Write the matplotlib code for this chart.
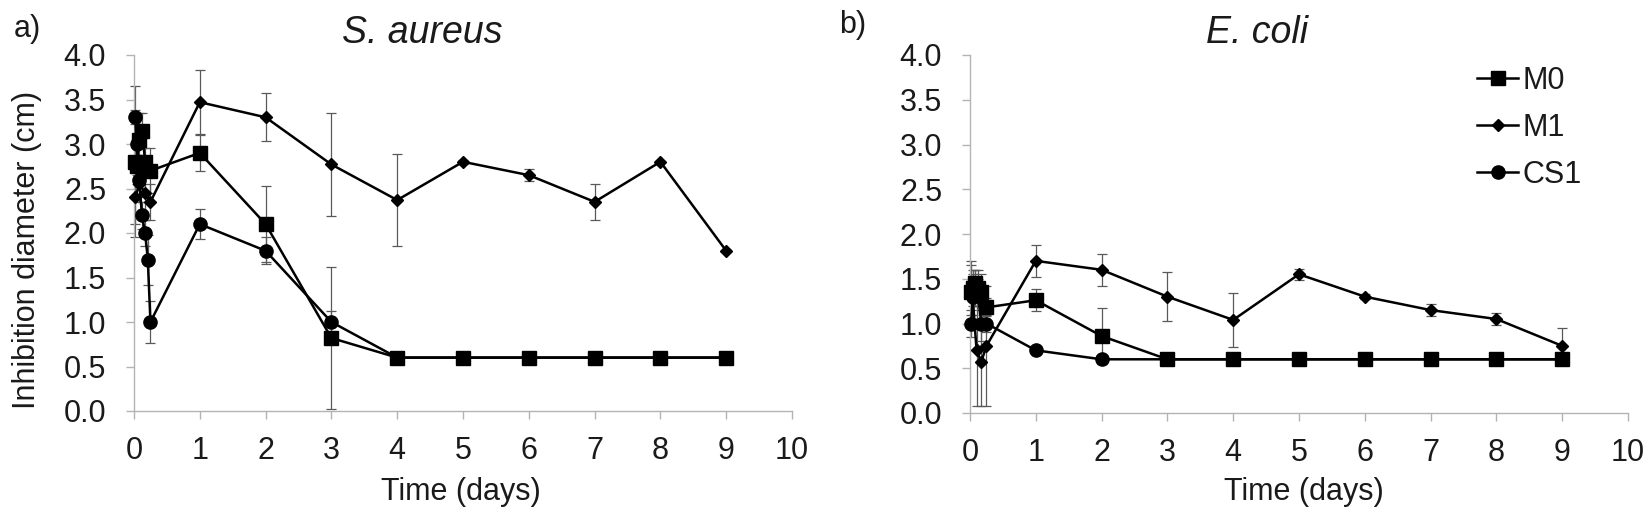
import matplotlib
matplotlib.use("Agg")
from matplotlib import pyplot as plt

plt.rcParams['font.family'] = ['Liberation Sans', 'DejaVu Sans']

# S. aureus
sa_m0_days = [0.02, 0.04, 0.08, 0.12, 0.17, 0.25, 1, 2, 3, 4, 5, 6, 7, 8, 9]
sa_m0 = [2.8, 2.75, 3.05, 3.15, 2.8, 2.7, 2.9, 2.1, 0.82, 0.6, 0.6, 0.6, 0.6, 0.6, 0.6]
sa_m0_err = [0.85, 0.2, 0.3, 0.2, 0.15, 0.25, 0.2, 0.43, 0.8, 0, 0, 0, 0, 0, 0]

sa_m1_days = [0.02, 0.08, 0.17, 0.25, 1, 2, 3, 4, 5, 6, 7, 8, 9]
sa_m1 = [2.4, 2.55, 2.45, 2.35, 3.47, 3.3, 2.77, 2.37, 2.8, 2.65, 2.35, 2.8, 1.8]
sa_m1_err = [0.3, 0.2, 0.3, 0.2, 0.36, 0.27, 0.58, 0.52, 0.02, 0.07, 0.2, 0.01, 0.01]

sa_cs1_days = [0.02, 0.04, 0.08, 0.12, 0.17, 0.21, 0.25, 1, 2, 3, 4, 5, 6, 7, 8, 9]
sa_cs1 = [3.3, 3.0, 2.6, 2.2, 2.0, 1.7, 1.0, 2.1, 1.8, 1.0, 0.6, 0.6, 0.6, 0.6, 0.6, 0.6]
sa_cs1_err = [0.08, 0.35, 0.2, 0.15, 0.15, 0.28, 0.24, 0.17, 0.15, 0.12, 0, 0, 0, 0, 0, 0]

# E. coli
ec_m0_days = [0.02, 0.04, 0.08, 0.12, 0.17, 0.25, 1, 2, 3, 4, 5, 6, 7, 8, 9]
ec_m0 = [1.35, 1.4, 1.45, 1.4, 1.35, 1.18, 1.26, 0.86, 0.6, 0.6, 0.6, 0.6, 0.6, 0.6, 0.6]
ec_m0_err = [0.3, 0.2, 0.15, 0.2, 0.2, 0.1, 0.12, 0.31, 0, 0, 0, 0, 0, 0, 0]

ec_m1_days = [0.02, 0.04, 0.1, 0.17, 0.25, 1, 2, 3, 4, 5, 6, 7, 8, 9]
ec_m1 = [1.4, 1.3, 0.7, 0.57, 0.75, 1.7, 1.6, 1.3, 1.04, 1.55, 1.3, 1.15, 1.05, 0.75]
ec_m1_err = [0.3, 0.25, 0.62, 0.49, 0.67, 0.18, 0.18, 0.27, 0.3, 0.06, 0.03, 0.07, 0.07, 0.2]

ec_cs1_days = [0.02, 0.04, 0.08, 0.12, 0.17, 0.25, 1, 2, 3, 4, 5, 6, 7, 8, 9]
ec_cs1 = [1.0, 1.3, 1.4, 1.35, 1.0, 1.0, 0.7, 0.6, 0.6, 0.6, 0.6, 0.6, 0.6, 0.6, 0.6]
ec_cs1_err = [0.15, 0.2, 0.2, 0.15, 0.2, 0.1, 0.03, 0.02, 0, 0, 0, 0, 0, 0, 0]

series_names = ["M0", "M1", "CS1"]
x_ticks = [0, 1, 2, 3, 4, 5, 6, 7, 8, 9, 10]
y_ticks = [0.0, 0.5, 1.0, 1.5, 2.0, 2.5, 3.0, 3.5, 4.0]

AXIS_GRAY = "#b3b3b3"
TEXT = "#1a1a1a"
W, H = 1652, 520


def draw_series(ax, days, values, errors, marker, size):
    ax.errorbar(days, values, yerr=errors, fmt="none", ecolor="#595959",
                elinewidth=0.9, capsize=3.5, capthick=0.9, zorder=2, clip_on=False)
    line, = ax.plot(days, values, color="black", linewidth=1.8, marker=marker,
                    markersize=size, zorder=3, clip_on=False)
    return line


def style_axes(ax):
    ax.set_xlim(0, 10)
    ax.set_ylim(0, 4)
    ax.set_xticks(x_ticks)
    ax.set_yticks(y_ticks)
    ax.set_yticklabels([f"{v:.1f}" for v in y_ticks])
    for side in ["top", "right"]:
        ax.spines[side].set_visible(False)
    for side in ["left", "bottom"]:
        ax.spines[side].set_color(AXIS_GRAY)
        ax.spines[side].set_linewidth(1.0)
    ax.tick_params(direction="out", length=6, width=1.0, color=AXIS_GRAY,
                   labelsize=22, labelcolor=TEXT)
    ax.tick_params(axis="x", pad=12)
    ax.tick_params(axis="y", pad=14)


fig = plt.figure(figsize=(W / 100, H / 100), dpi=100)
ax1 = fig.add_axes([134 / W, 1 - 411 / H, (792 - 134) / W, 356 / H])
ax2 = fig.add_axes([970 / W, 1 - 413 / H, (1628 - 970) / W, 358 / H])

draw_series(ax1, sa_cs1_days, sa_cs1, sa_cs1_err, "o", 9.5)
draw_series(ax1, sa_m1_days, sa_m1, sa_m1_err, "D", 6.5)
draw_series(ax1, sa_m0_days, sa_m0, sa_m0_err, "s", 10.5)

h_cs1 = draw_series(ax2, ec_cs1_days, ec_cs1, ec_cs1_err, "o", 9.5)
h_m1 = draw_series(ax2, ec_m1_days, ec_m1, ec_m1_err, "D", 6.5)
h_m0 = draw_series(ax2, ec_m0_days, ec_m0, ec_m0_err, "s", 10.5)

style_axes(ax1)
style_axes(ax2)

fig.text(27 / W, 1 - 250 / H, "Inhibition diameter (cm)", fontsize=22, color=TEXT,
         rotation=90, ha="center", va="center")
fig.text(461 / W, 1 - 492 / H, "Time (days)", fontsize=22, color=TEXT,
         ha="center", va="center")
fig.text(1304 / W, 1 - 492 / H, "Time (days)", fontsize=22, color=TEXT,
         ha="center", va="center")

fig.text(422 / W, 1 - 33 / H, "S. aureus", fontsize=27, style="italic",
         color=TEXT, ha="center", va="center")
fig.text(1257 / W, 1 - 33 / H, "E. coli", fontsize=27, style="italic",
         color=TEXT, ha="center", va="center")
fig.text(14 / W, 1 - 29 / H, "a)", fontsize=22, color=TEXT, ha="left", va="center")
fig.text(839 / W, 1 - 25 / H, "b)", fontsize=22, color=TEXT, ha="left", va="center")

fig.legend([h_m0, h_m1, h_cs1], series_names, loc="upper left",
           bbox_to_anchor=(1477 / W, 1 - 66 / H), frameon=False,
           fontsize=22, handlelength=1.35, handletextpad=0.15, labelspacing=0.55,
           borderpad=0, borderaxespad=0, labelcolor=TEXT)

fig.savefig("out.png", dpi=100)
